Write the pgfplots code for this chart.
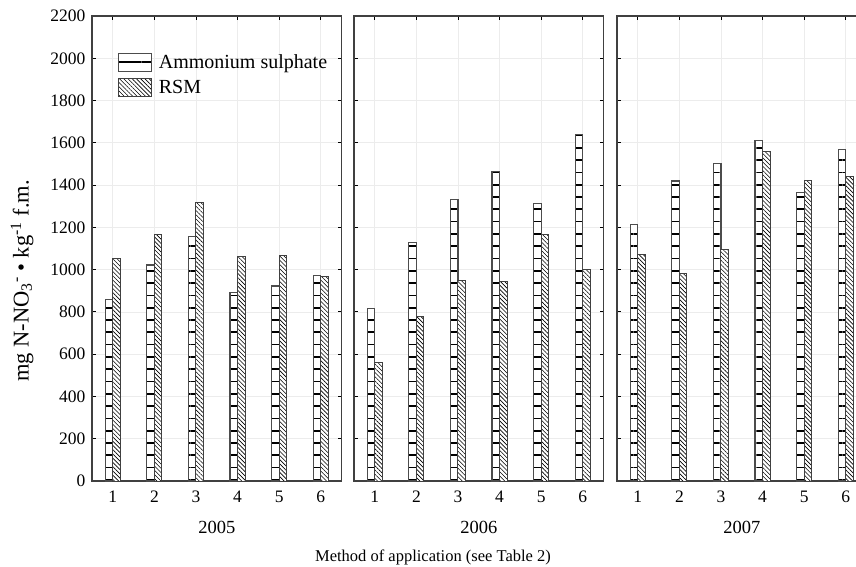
\documentclass[border=0pt]{standalone}
\usepackage{fontspec}
\setmainfont{Liberation Serif}
\usepackage{pgfplots}
\usepackage{pgfplotstable}
\pgfplotsset{compat=1.18}
\usetikzlibrary{patterns.meta}

% method, ammonium sulphate, RSM
\pgfplotstableread{
m as rsm
1 860 1054
2 1022 1168
3 1155 1316
4 891 1063
5 923 1066
6 973 968
}\tabA
\pgfplotstableread{
m as rsm
1 818 563
2 1128 776
3 1330 950
4 1464 946
5 1313 1166
6 1641 1002
}\tabB
\pgfplotstableread{
m as rsm
1 1212 1073
2 1419 984
3 1502 1093
4 1610 1561
5 1365 1420
6 1570 1442
}\tabC

\pgfplotsset{
  panel/.style={
    width=249.5pt, height=465pt, scale only axis,
    anchor=south west,
    ymin=0, ymax=2200, ytick={0,200,...,2200},
    xmin=0.5, xmax=6.5, xtick={1,...,6},
    ybar=0pt, bar width=7.6pt,
    grid=major, grid style={gray!15, line width=0.7pt},
    tick align=inside, major tick length=4pt,
    tick style={black, line width=0.9pt},
    axis line style={black!75, line width=1.3pt},
    ticklabel style={font=\fontsize{17.5}{17.5}\selectfont},
    xticklabel style={yshift=-6pt},
    yticklabel style={xshift=-3pt},
    /pgf/number format/assume math mode=true,
    /pgf/number format/set thousands separator={},
    xlabel style={at={(axis description cs:0.5,0)}, anchor=center, yshift=-46pt,
      font=\fontsize{18.5}{18.5}\selectfont},
  },
  asbar/.style={draw=black!70, line width=1.2pt, fill=white,
    postaction={pattern={Lines[angle=0,distance=12.3pt,line width=1.7pt]}, pattern color=black}},
  rsmbar/.style={draw=black!75, line width=1pt, fill=white,
    postaction={pattern={Lines[angle=-45,distance=3pt,line width=0.6pt]}, pattern color=black}},
}

\begin{document}
\begin{tikzpicture}
\begin{axis}[panel, at={(92pt,-481pt)}, xlabel={2005},
  ylabel={mg N-NO\textsubscript{3}\textsuperscript{-} • kg\textsuperscript{-1} f.m.},
  ylabel style={at={(axis description cs:-0.28,0.43)}, anchor=center,
    font=\fontsize{22.5}{22.5}\selectfont},
  legend style={at={(axis description cs:0.09,0.925)}, anchor=north west,
    draw=none, fill=none, font=\fontsize{20}{22}\selectfont,
    row sep=6pt, cells={anchor=west}},
  legend image code/.code={\draw[#1] (0pt,-9pt) rectangle (33pt,9pt);},
]
\addplot[asbar] table[x=m, y=as] {\tabA};
\addplot[rsmbar] table[x=m, y=rsm] {\tabA};
\legend{\hspace{5pt}Ammonium sulphate, \hspace{5pt}RSM}
\end{axis}

\begin{axis}[panel, at={(354pt,-481pt)}, xlabel={2006}, yticklabels={}]
\addplot[asbar] table[x=m, y=as] {\tabB};
\addplot[rsmbar] table[x=m, y=rsm] {\tabB};
\end{axis}

\begin{axis}[panel, at={(617pt,-481pt)}, xlabel={2007}, yticklabels={}]
\addplot[asbar] table[x=m, y=as] {\tabC};
\addplot[rsmbar] table[x=m, y=rsm] {\tabC};
\end{axis}

\node[font=\fontsize{16.5}{16.5}\selectfont] at (433pt,-557pt) {Method of application (see Table 2)};

\pgfresetboundingbox
\path[use as bounding box] (0pt,0pt) rectangle (856pt,-566pt);
\end{tikzpicture}
\end{document}
